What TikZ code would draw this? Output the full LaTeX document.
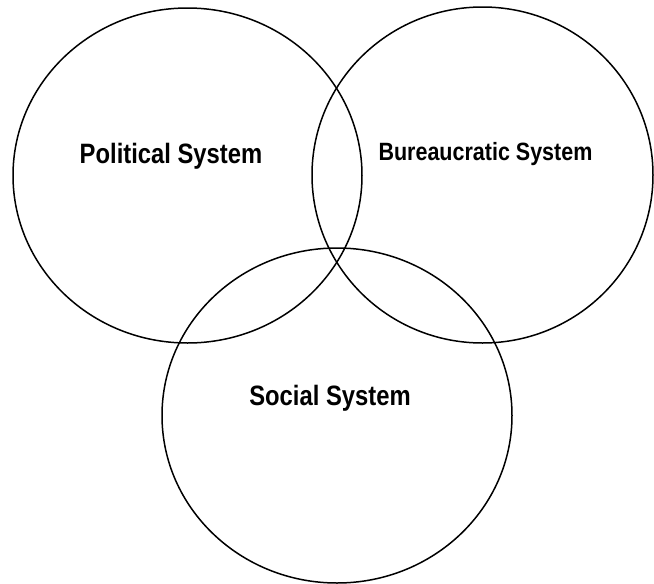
\documentclass[tikz,border=0pt]{standalone}
\usepackage{fontspec}
\setmainfont{Liberation Sans}
\usetikzlibrary{shapes.geometric}
\tikzset{
  sysring/.style={draw=black, line width=1.5pt, ellipse, inner sep=0pt},
  biglabel/.style={font=\fontsize{28}{30}\selectfont\bfseries, inner sep=0pt},
  midlabel/.style={font=\fontsize{25}{27}\selectfont\bfseries, inner sep=0pt}
}
\begin{document}
\begin{tikzpicture}[x=1pt,y=-1pt]
\useasboundingbox (0,0) rectangle (654,584);
\begin{scope}
\clip (0,0) rectangle (654,584);
\node[sysring, minimum width=349pt, minimum height=335pt] (pol) at (187.5,175.5) {};
\node[sysring, minimum width=341pt, minimum height=336pt] (bur) at (482.5,175) {};
\node[sysring, minimum width=350pt, minimum height=335pt] (soc) at (337,415.5) {};
\end{scope}
\node[biglabel] (polt) at (171,156) {\scalebox{0.85}[1]{Political System}};
\node[midlabel] (burt) at (485.5,154.5) {\scalebox{0.86}[1]{Bureaucratic System}};
\node[biglabel] (soct) at (330,398) {\scalebox{0.85}[1]{Social System}};
\end{tikzpicture}
\end{document}
